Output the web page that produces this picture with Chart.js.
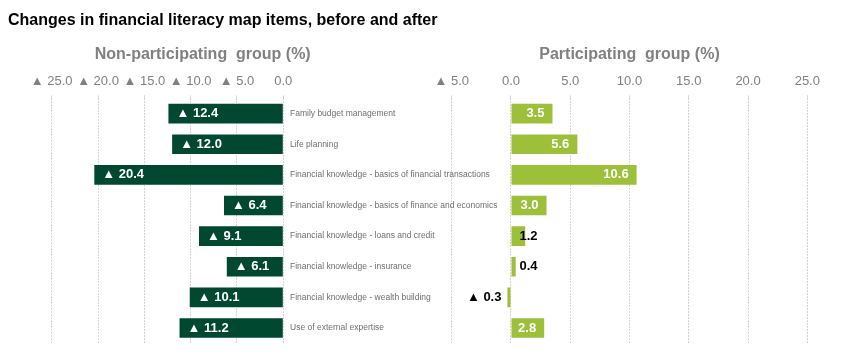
<!DOCTYPE html>
<html><head><meta charset="utf-8">
<script src="https://cdn.jsdelivr.net/npm/chart.js@4"></script>
<style>
html,body{margin:0;padding:0;background:#fff;}
#wrap{position:relative;width:864px;height:364px;}
canvas{position:absolute;left:0;top:0;}
</style>
</head><body>
<div id="wrap"><canvas id="leftChart" width="864" height="364"></canvas><canvas id="rightChart" width="864" height="364"></canvas></div>
<script>
const mainTitle = 'Changes in financial literacy map items, before and after';
const leftTitle = 'Non-participating  group (%)';
const rightTitle = 'Participating  group (%)';
const categories = [
  'Family budget management',
  'Life planning',
  'Financial knowledge - basics of financial transactions',
  'Financial knowledge - basics of finance and economics',
  'Financial knowledge - loans and credit',
  'Financial knowledge - insurance',
  'Financial knowledge - wealth building',
  'Use of external expertise'
];
// ▲ denotes a negative value (decrease)
const nonParticipating = [-12.4, -12.0, -20.4, -6.4, -9.1, -6.1, -10.1, -11.2];
const participating = [3.5, 5.6, 10.6, 3.0, 1.2, 0.4, -0.3, 2.8];
const leftAxisRange = [-25, 0];
const rightAxisRange = [-5, 25];
const tickStep = 5;

Chart.defaults.font.family = '"Liberation Sans", Arial, sans-serif';

function fmt(v) {
  return v < 0 ? '\u25B2 ' + Math.abs(v).toFixed(1) : Number(v).toFixed(1);
}

const barLabels = {
  id: 'barLabels',
  afterDatasetsDraw(chart) {
    const ctx = chart.ctx;
    const meta = chart.getDatasetMeta(0);
    const data = chart.data.datasets[0].data;
    ctx.save();
    ctx.font = 'bold 13px "Liberation Sans", Arial, sans-serif';
    ctx.textBaseline = 'middle';
    meta.data.forEach((bar, i) => {
      const v = data[i];
      const txt = fmt(v);
      const w = ctx.measureText(txt).width;
      const len = Math.abs(bar.x - bar.base);
      const fits = len >= w + 14;
      if (v < 0) {
        if (fits) { ctx.fillStyle = '#fff'; ctx.textAlign = 'left'; ctx.fillText(txt, bar.x + 8, bar.y); }
        else { ctx.fillStyle = '#000'; ctx.textAlign = 'right'; ctx.fillText(txt, bar.base - 9, bar.y); }
      } else {
        if (fits) { ctx.fillStyle = '#fff'; ctx.textAlign = 'right'; ctx.fillText(txt, bar.x - 8, bar.y); }
        else { ctx.fillStyle = '#000'; ctx.textAlign = 'left'; ctx.fillText(txt, bar.base + 8, bar.y); }
      }
    });
    ctx.restore();
  }
};

const gridOpts = { color: '#d4d4d4', tickLength: 3 };
const borderOpts = { display: false, dash: [2, 1] };
const tickOpts = { stepSize: tickStep, callback: fmt, color: '#808080', font: { size: 13 }, padding: 6, maxRotation: 0, autoSkip: false };

new Chart(document.getElementById('leftChart'), {
  type: 'bar',
  data: { labels: categories, datasets: [{ data: nonParticipating, backgroundColor: '#004830', barPercentage: 0.64, categoryPercentage: 1 }] },
  options: {
    responsive: false, animation: false, indexAxis: 'y',
    layout: { padding: { left: 8, right: 864 - 397.4, top: 0, bottom: 20.7 } },
    plugins: {
      legend: { display: false }, tooltip: { enabled: false },
      subtitle: { display: true, text: leftTitle, align: 'center', color: '#808080', font: { size: 16, weight: 'bold' }, padding: { top: 45.4, bottom: 0 } }
    },
    scales: {
      x: { position: 'top', min: leftAxisRange[0], max: leftAxisRange[1], ticks: tickOpts, grid: gridOpts, border: borderOpts,
           afterFit(s) { s.height = 33.7; } },
      y: { position: 'right', ticks: { display: false }, grid: { display: false, drawTicks: false }, border: { display: false },
           afterFit(s) { s.width = 114.1; } },
      pad: { type: 'linear', position: 'left', ticks: { display: false }, grid: { display: false, drawTicks: false }, border: { display: false },
           afterFit(s) { s.width = 43.7; } }
    }
  },
  plugins: [barLabels]
});

new Chart(document.getElementById('rightChart'), {
  type: 'bar',
  data: { labels: categories, datasets: [{ data: participating, backgroundColor: '#9DC03A', barPercentage: 0.64, categoryPercentage: 1 }] },
  options: {
    responsive: false, animation: false, indexAxis: 'y',
    layout: { padding: { left: 8, right: 56.7, top: 0, bottom: 20.7 } },
    plugins: {
      legend: { display: false }, tooltip: { enabled: false },
      title: { display: true, text: mainTitle, align: 'start', color: '#000', font: { size: 16, weight: 'bold' }, padding: { top: 11, bottom: 0 } }
    },
    scales: {
      x: { position: 'top', min: rightAxisRange[0], max: rightAxisRange[1], ticks: tickOpts, grid: gridOpts, border: borderOpts,
           title: { display: true, text: rightTitle, color: '#808080', font: { size: 16, weight: 'bold' }, padding: { top: 15.2, bottom: 0 } },
           afterFit(s) { s.height = 98.3 - 30.2; } },
      y: { position: 'left', ticks: { mirror: true, padding: -161.7, color: '#6e6e6e', font: { size: 8.5 } },
           grid: { display: false, drawTicks: false }, border: { display: false },
           afterFit(s) { s.width = 443.7; } }
    }
  },
  plugins: [barLabels]
});
</script>
</body></html>
